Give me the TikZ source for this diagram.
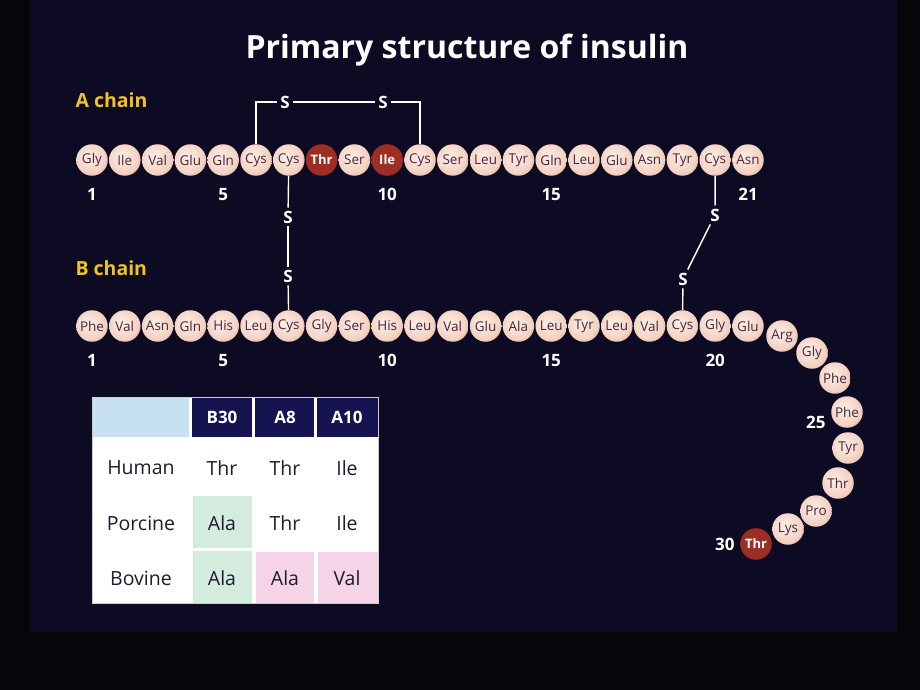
\documentclass[tikz,border=0pt]{standalone}
\usepackage{fontspec}
\setmainfont{Open Sans}
\usetikzlibrary{positioning}

\definecolor{slide}{RGB}{13,11,36}
\definecolor{rim}{RGB}{6,6,10}
\definecolor{chainyellow}{RGB}{242,192,40}
\definecolor{beadin}{RGB}{253,238,230}
\definecolor{beadmid}{RGB}{243,210,195}
\definecolor{beadout}{RGB}{198,140,120}
\definecolor{redin}{RGB}{158,45,35}
\definecolor{redout}{RGB}{100,20,15}
\definecolor{restext}{RGB}{70,40,64}
\definecolor{tablehead}{RGB}{22,20,80}
\definecolor{tableblue}{RGB}{200,225,242}
\definecolor{tablegreen}{RGB}{212,236,222}
\definecolor{tablepink}{RGB}{246,212,232}
\definecolor{tabletext}{RGB}{28,28,50}

\pgfdeclareradialshading{bead}{\pgfpoint{-6bp}{6bp}}{color(0bp)=(beadin); color(24bp)=(beadmid); color(42bp)=(beadout); color(56bp)=(beadout)}
\pgfdeclareradialshading{redbead}{\pgfpoint{-6bp}{6bp}}{color(0bp)=(redin); color(30bp)=(redin); color(56bp)=(redout)}

\tikzset{
    res/.style={circle, shading=bead, minimum size=31.5pt, inner sep=0pt, font=\fontsize{13.5}{13.5}\selectfont, text=restext},
    resdark/.style={circle, shading=redbead, minimum size=31.5pt, inner sep=0pt, font=\bfseries\fontsize{13}{13}\selectfont, text=white},
    sulfur/.style={font=\bfseries\fontsize{17}{17}\selectfont, text=white, inner sep=3pt},
    bond/.style={draw=white, line width=1.4pt},
    resnum/.style={font=\bfseries\fontsize{17}{17}\selectfont, text=white},
    chainlabel/.style={font=\bfseries\fontsize{19.5}{19.5}\selectfont, text=chainyellow, anchor=west},
    headcell/.style={font=\bfseries\fontsize{17}{17}\selectfont, text=white},
    cell/.style={font=\fontsize{19.5}{19.5}\selectfont, text=tabletext},
}

\begin{document}
\begin{tikzpicture}[x=1pt, y=-1pt]
        % Background
        \useasboundingbox (0,0) rectangle (920,690);
        \fill[rim] (0,0) rectangle (920,690);
        \fill[slide] (30,0) rectangle (897,632);

        % Title and chain labels
        \node[font=\bfseries\fontsize{32}{32}\selectfont, text=white] (title) at (467,50) {Primary structure of insulin};
        \node[chainlabel] (alabel) at (72,100) {A chain};
        \node[chainlabel] (blabel) at (72,268) {B chain};

        % A chain
        \foreach \name/\kind [count=\i] in {Gly/res,Ile/res,Val/res,Glu/res,Gln/res,Cys/res,Cys/res,Thr/resdark,Ser/res,Ile/resdark,Cys/res,Ser/res,Leu/res,Tyr/res,Gln/res,Leu/res,Glu/res,Asn/res,Tyr/res,Cys/res,Asn/res}
            \node[\kind] (a\i) at ({92+(\i-1)*32.8},160) {\name};

        % B chain
        \foreach \name [count=\i] in {Phe,Val,Asn,Gln,His,Leu,Cys,Gly,Ser,His,Leu,Val,Glu,Ala,Leu,Tyr,Leu,Val,Cys,Gly,Glu}
            \node[res] (b\i) at ({92+(\i-1)*32.8},326) {\name};
        \foreach \name/\kind/\x/\y [count=\i from 22] in {Arg/res/782/336,Gly/res/812/353,Phe/res/835/378,Phe/res/847/412,Tyr/res/848/448,Thr/res/838/483,Pro/res/816/511,Lys/res/788/529,Thr/resdark/756/544}
            \node[\kind] (b\i) at (\x,\y) {\name};

        % Numbers
        \foreach \i in {1,5,10,15,21}
            \node[resnum, below=9pt of a\i] (anum\i) {\i};
        \foreach \i in {1,5,10,15,20}
            \node[resnum, below=9pt of b\i] (bnum\i) {\i};
        \node[resnum, left=2pt of b25, yshift=-10pt] (bnum25) {25};
        \node[resnum, left=2pt of b30] (bnum30) {30};

        % Disulfide bridges
        \node[sulfur] (s1) at (285,102) {S};
        \node[sulfur] (s2) at (383,102) {S};
        \node[sulfur] (s3) at (288,217) {S};
        \node[sulfur] (s4) at (288,276) {S};
        \node[sulfur] (s5) at (715,215) {S};
        \node[sulfur] (s6) at (683,279) {S};
        \draw[bond] (a6) |- (s1);
        \draw[bond] (s1) -- (s2);
        \draw[bond] (s2) -| (a11);
        \draw[bond] (a7) -- (s3);
        \draw[bond] (s3) -- (s4);
        \draw[bond] (s4) -- (b7);
        \draw[bond] (a20) -- (s5);
        \draw[bond] (s5) -- (s6);
        \draw[bond] (s6) -- (b19);

        % Species table
        \fill[white] (92,397) rectangle (378,603);
        \fill[tableblue] (92,397) rectangle (189,437);
        \fill[tablehead] (192,397) rectangle (252,437);
        \fill[tablehead] (255,397) rectangle (314,437);
        \fill[tablehead] (317,397) rectangle (378,437);
        \fill[tablegreen] (193,496) rectangle (252,548);
        \fill[tablegreen] (193,551) rectangle (252,603);
        \fill[tablepink] (256,552) rectangle (314,603);
        \fill[tablepink] (318,552) rectangle (378,603);
        \draw[gray!40, line width=1pt] (92,397) rectangle (378,603);
        \node[headcell] (hb30) at (222,417) {B30};
        \node[headcell] (ha8) at (285,417) {A8};
        \node[headcell] (ha10) at (347,417) {A10};
        \foreach \sp/\vb/\va/\vc/\y [count=\i] in {Human/Thr/Thr/Ile/468,Porcine/Ala/Thr/Ile/523,Bovine/Ala/Ala/Val/578}{
            \node[cell] (sp\i) at (141,\y) {\sp};
            \node[cell] (vb\i) at (222,\y) {\vb};
            \node[cell] (va\i) at (285,\y) {\va};
            \node[cell] (vc\i) at (347,\y) {\vc};
        }
\end{tikzpicture}
\end{document}
